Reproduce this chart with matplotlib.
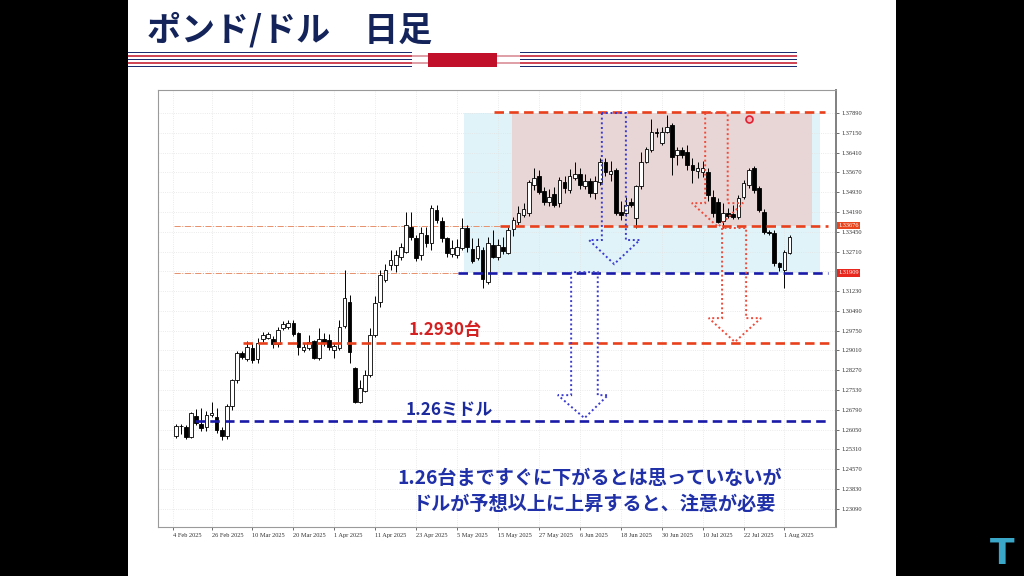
import numpy as np
import matplotlib.pyplot as plt
from matplotlib.patches import Rectangle, Polygon

plt.rcParams['font.family'] = ['Noto Sans CJK JP', 'DejaVu Sans']

# daily GBP/USD candles, 17 Feb 2025 .. 4 Aug 2025 (bar index 0..120)
opens = [1.2580, 1.2620, 1.2614, 1.2577, 1.2656, 1.2626, 1.2615, 1.2660, 1.2652, 1.2604,
         1.2581, 1.2693, 1.2790, 1.2891, 1.2868, 1.2910, 1.2868, 1.2943, 1.2947, 1.2944,
         1.2925, 1.2985, 1.2988, 1.3004, 1.2966, 1.2903, 1.2910, 1.2936, 1.2873, 1.2944,
         1.2940, 1.2903, 1.2910, 1.2992, 1.3082, 1.2835, 1.2708, 1.2749, 1.2809, 1.2959,
         1.3082, 1.3164, 1.3220, 1.3220, 1.3250, 1.3269, 1.3363, 1.3322, 1.3258, 1.3333,
         1.3303, 1.3426, 1.3385, 1.3322, 1.3262, 1.3258, 1.3284, 1.3359, 1.3281, 1.3247,
         1.3277, 1.3157, 1.3296, 1.3251, 1.3288, 1.3266, 1.3355, 1.3381, 1.3408, 1.3415,
         1.3520, 1.3553, 1.3497, 1.3456, 1.3486, 1.3453, 1.3531, 1.3501, 1.3546, 1.3561,
         1.3516, 1.3535, 1.3490, 1.3531, 1.3605, 1.3561, 1.3576, 1.3419, 1.3415, 1.3456,
         1.3396, 1.3516, 1.3605, 1.3651, 1.3718, 1.3677, 1.3718, 1.3744, 1.3632, 1.3651,
         1.3643, 1.3594, 1.3572, 1.3568, 1.3568, 1.3475, 1.3456, 1.3385, 1.3415, 1.3411,
         1.3400, 1.3475, 1.3520, 1.3583, 1.3508, 1.3419, 1.3344, 1.3340, 1.3228, 1.3202,
         1.3266]
highs = [1.2626, 1.2626, 1.2622, 1.2670, 1.2682, 1.2685, 1.2674, 1.2707, 1.2685, 1.2615,
         1.2700, 1.2795, 1.2898, 1.2898, 1.2935, 1.2928, 1.2947, 1.2970, 1.2970, 1.2955,
         1.2990, 1.3010, 1.3015, 1.3015, 1.2970, 1.2928, 1.2958, 1.2940, 1.2985, 1.2966,
         1.2962, 1.2929, 1.3015, 1.3202, 1.3108, 1.2838, 1.2790, 1.2827, 1.2985, 1.3105,
         1.3202, 1.3224, 1.3277, 1.3275, 1.3303, 1.3419, 1.3419, 1.3333, 1.3363, 1.3363,
         1.3445, 1.3445, 1.3400, 1.3326, 1.3315, 1.3318, 1.3396, 1.3370, 1.3322, 1.3322,
         1.3288, 1.3325, 1.3352, 1.3318, 1.3325, 1.3363, 1.3400, 1.3441, 1.3452, 1.3538,
         1.3583, 1.3575, 1.3512, 1.3505, 1.3512, 1.3550, 1.3553, 1.3580, 1.3605, 1.3583,
         1.3561, 1.3546, 1.3553, 1.3620, 1.3620, 1.3610, 1.3583, 1.3460, 1.3475, 1.3470,
         1.3520, 1.3643, 1.3662, 1.3767, 1.3733, 1.3737, 1.3782, 1.3752, 1.3662, 1.3662,
         1.3670, 1.3620, 1.3605, 1.3610, 1.3583, 1.3501, 1.3471, 1.3452, 1.3434, 1.3445,
         1.3482, 1.3538, 1.3583, 1.3590, 1.3516, 1.3430, 1.3352, 1.3352, 1.3232, 1.3277,
         1.3333]
lows = [1.2574, 1.2590, 1.2570, 1.2575, 1.2622, 1.2600, 1.2600, 1.2652, 1.2592, 1.2566,
        1.2570, 1.2680, 1.2780, 1.2868, 1.2861, 1.2853, 1.2856, 1.2932, 1.2943, 1.2910,
        1.2915, 1.2977, 1.2981, 1.2955, 1.2884, 1.2895, 1.2903, 1.2868, 1.2866, 1.2918,
        1.2903, 1.2873, 1.2903, 1.2985, 1.2854, 1.2705, 1.2705, 1.2745, 1.2801, 1.2950,
        1.3064, 1.3157, 1.3202, 1.3194, 1.3240, 1.3266, 1.3314, 1.3235, 1.3239, 1.3288,
        1.3277, 1.3378, 1.3307, 1.3251, 1.3251, 1.3247, 1.3277, 1.3270, 1.3228, 1.3240,
        1.3135, 1.3150, 1.3247, 1.3240, 1.3262, 1.3262, 1.3330, 1.3370, 1.3400, 1.3404,
        1.3500, 1.3486, 1.3445, 1.3441, 1.3437, 1.3437, 1.3490, 1.3490, 1.3538, 1.3505,
        1.3505, 1.3475, 1.3468, 1.3520, 1.3553, 1.3535, 1.3408, 1.3389, 1.3404, 1.3437,
        1.3359, 1.3505, 1.3601, 1.3643, 1.3700, 1.3670, 1.3714, 1.3557, 1.3594, 1.3620,
        1.3575, 1.3527, 1.3546, 1.3550, 1.3460, 1.3400, 1.3378, 1.3359, 1.3396, 1.3392,
        1.3392, 1.3467, 1.3509, 1.3490, 1.3419, 1.3337, 1.3333, 1.3217, 1.3198, 1.3135,
        1.3262]
closes = [1.2620, 1.2618, 1.2577, 1.2667, 1.2630, 1.2611, 1.2660, 1.2668, 1.2604, 1.2581,
          1.2693, 1.2790, 1.2891, 1.2875, 1.2914, 1.2865, 1.2928, 1.2958, 1.2962, 1.2925,
          1.2977, 1.3000, 1.3003, 1.2962, 1.2914, 1.2914, 1.2933, 1.2873, 1.2944, 1.2929,
          1.2914, 1.2918, 1.2989, 1.3097, 1.2895, 1.2708, 1.2760, 1.2809, 1.2959, 1.3078,
          1.3183, 1.3202, 1.3239, 1.3258, 1.3288, 1.3370, 1.3325, 1.3247, 1.3340, 1.3303,
          1.3434, 1.3389, 1.3322, 1.3266, 1.3284, 1.3288, 1.3359, 1.3288, 1.3236, 1.3290,
          1.3168, 1.3303, 1.3251, 1.3296, 1.3273, 1.3352, 1.3389, 1.3415, 1.3430, 1.3531,
          1.3546, 1.3494, 1.3456, 1.3475, 1.3445, 1.3538, 1.3509, 1.3553, 1.3561, 1.3520,
          1.3535, 1.3490, 1.3535, 1.3605, 1.3568, 1.3572, 1.3415, 1.3408, 1.3445, 1.3445,
          1.3516, 1.3605, 1.3654, 1.3718, 1.3714, 1.3718, 1.3737, 1.3624, 1.3651, 1.3632,
          1.3594, 1.3576, 1.3583, 1.3583, 1.3482, 1.3415, 1.3381, 1.3415, 1.3404, 1.3400,
          1.3471, 1.3527, 1.3576, 1.3501, 1.3426, 1.3344, 1.3340, 1.3228, 1.3213, 1.3269,
          1.3325]

x_tick_pos = [-0.5, 7, 15, 23, 31, 39, 47, 55, 63, 71, 79, 87, 95, 103, 111, 119]
x_tick_labels = ['4 Feb 2025', '26 Feb 2025', '10 Mar 2025', '20 Mar 2025', '1 Apr 2025',
                 '11 Apr 2025', '23 Apr 2025', '5 May 2025', '15 May 2025', '27 May 2025',
                 '6 Jun 2025', '18 Jun 2025', '30 Jun 2025', '10 Jul 2025', '22 Jul 2025',
                 '1 Aug 2025']
y_ticks = [1.37890, 1.37150, 1.36410, 1.35670, 1.34930, 1.34190, 1.33450, 1.32710, 1.31970,
           1.31230, 1.30490, 1.29750, 1.29010, 1.28270, 1.27530, 1.26790, 1.26050, 1.25310,
           1.24570, 1.23830, 1.23090]

# horizontal levels
lvl_top = 1.3793
lvl_upper = 1.33676
lvl_lower = 1.31909
lvl_1293 = 1.2930
lvl_126 = 1.2637

# arrows (bar index, price)
blue_arrow1 = [(83.3, 1.3789), (83.3, 1.3314), (80.8, 1.3314), (85.7, 1.3224),
               (90.7, 1.3314), (88.0, 1.3314), (88.0, 1.3789)]
blue_arrow2 = [(77.3, 1.3194), (77.3, 1.2734), (74.7, 1.2734), (79.9, 1.2648),
               (84.5, 1.2734), (82.5, 1.2734), (82.5, 1.3194)]
red_arrow1 = [(103.5, 1.3789), (103.5, 1.3452), (100.9, 1.3452), (106.0, 1.3363),
              (110.9, 1.3452), (107.9, 1.3452), (107.9, 1.3789)]
red_arrow2 = [(106.8, 1.3359), (106.8, 1.3022), (104.2, 1.3022), (109.3, 1.2933),
              (114.4, 1.3022), (111.5, 1.3022), (111.5, 1.3359)]

W, H = 1024, 576
def fx(px):
    return px / W
def fy(py):
    return 1 - py / H

fig = plt.figure(figsize=(10.24, 5.76), dpi=100, facecolor='black')

# white slide
fig.patches.append(Rectangle((fx(128), 0), fx(896) - fx(128), 1, transform=fig.transFigure,
                             facecolor='white', edgecolor='none', zorder=-10))

# title
fig.text(fx(147), fy(30), 'ポンド/ドル　日足', fontsize=24.5, fontweight='bold',
         color='#14245a', va='center', ha='left')

# decorative bar under title
def frect(x0, y0, x1, y1, color):
    fig.patches.append(Rectangle((fx(x0), fy(y1)), fx(x1) - fx(x0), fy(y0) - fy(y1),
                                 transform=fig.transFigure, facecolor=color,
                                 edgecolor='none', zorder=-5))

frect(128, 52, 797, 67, '#1c2c6e')
frect(128, 53.5, 797, 65.5, '#ffffff')
frect(128, 55.5, 797, 56.7, '#d04858')
frect(128, 58.8, 797, 60.2, '#1c2c6e')
frect(128, 62.3, 797, 63.5, '#d04858')
frect(412, 52, 520, 67, '#ffffff')
frect(412, 55.5, 520, 56.5, '#e0a0a8')
frect(412, 62.5, 520, 63.5, '#e0a0a8')
frect(428, 52.5, 497, 66.5, '#c0102a')

# chart axes
ax = fig.add_axes([fx(158), fy(527), fx(836) - fx(158), (527 - 90) / H])
ax.set_xlim(-3.46, 129.07)
ax.set_ylim(1.2241, 1.3875)
ax.set_facecolor('white')

# shaded zones
ax.add_patch(Rectangle((56.35, lvl_lower), 125.9 - 56.35, 1.3789 - lvl_lower,
                       facecolor='#dff3f9', edgecolor='none', zorder=0.5))
ax.add_patch(Rectangle((65.7, lvl_upper), 124.4 - 65.7, 1.3789 - lvl_upper,
                       facecolor='#e8d6d6', edgecolor='none', zorder=0.6))

ax.set_yticks(y_ticks)
ax.set_xticks(x_tick_pos)
ax.grid(color='#e4e4e4', linestyle=':', linewidth=0.6, zorder=0.7)
ax.set_axisbelow(True)

# candles
x = np.arange(len(opens))
o = np.array(opens)
c = np.array(closes)
ax.vlines(x, lows, highs, color='black', linewidth=0.7, zorder=3)
up = c >= o
body_h = np.maximum(np.abs(c - o), 0.00025)
ax.bar(x[up], body_h[up], bottom=np.minimum(o, c)[up], width=0.72, color='white',
       edgecolor='black', linewidth=0.6, zorder=3.5)
ax.bar(x[~up], body_h[~up], bottom=np.minimum(o, c)[~up], width=0.72, color='black',
       edgecolor='black', linewidth=0.6, zorder=3.5)

# thin MT4 horizontal lines
ax.hlines(lvl_upper, -0.4, 63.4, colors='#e8906c', linestyles='dashdot', linewidth=0.7, zorder=2)
ax.hlines(lvl_lower, -0.4, 55.2, colors='#e8906c', linestyles='dashdot', linewidth=0.7, zorder=2)

# dashed levels
dash = (0, (3.6, 2.0))
lw = 1.9
ax.hlines(lvl_top, 62.2, 126.9, colors='#e8401c', linestyles=[dash], linewidth=lw, zorder=4)
ax.hlines(lvl_upper, 63.4, 127.5, colors='#e8401c', linestyles=[dash], linewidth=lw, zorder=4)
ax.hlines(lvl_lower, 55.2, 127.5, colors='#1a1aa8', linestyles=[dash], linewidth=lw, zorder=4)
ax.hlines(lvl_1293, 13.2, 127.9, colors='#e8401c', linestyles=[dash], linewidth=lw, zorder=4)
ax.hlines(lvl_126, 3.8, 127.9, colors='#1a1aa8', linestyles=[dash], linewidth=lw, zorder=4)

# dotted arrows
for pts, col in [(blue_arrow1, '#3a3ad0'), (blue_arrow2, '#3a3ad0'),
                 (red_arrow1, '#f04a3a'), (red_arrow2, '#f04a3a')]:
    ax.add_patch(Polygon(pts, closed=True, fill=False, edgecolor=col, linewidth=1.4,
                         linestyle=(0, (1, 1.4)), zorder=5))

# cursor marker
ax.plot([112.1], [1.3767], marker='o', markersize=5, markerfacecolor='#f7b0b8',
        markeredgecolor='#e02030', markeredgewidth=1.2, zorder=6)

# level texts
ax.text(52.7, 1.2977, '1.2930台', color='#d42020', fontsize=12.3, fontweight='bold',
        ha='center', va='center', zorder=6)
ax.text(53.4, 1.2678, '1.26ミドル', color='#1b2a9c', fontsize=12.3, fontweight='bold',
        ha='center', va='center', zorder=6)

# axis styling
ax.yaxis.tick_right()
# the 1.31970 label sits under the 1.31909 price box
ytick_text = ['' if abs(v - 1.31970) < 1e-6 else '%.5f' % v for v in y_ticks]
ax.set_yticklabels(ytick_text, fontsize=4.6, color='#333333', family='Liberation Serif')
ax.set_xticklabels(x_tick_labels, fontsize=4.6, color='#333333', ha='left',
                   family='Liberation Serif')
ax.tick_params(axis='y', length=2.5, width=0.6, pad=1.5, colors='#555555', labelcolor='#333333')
ax.tick_params(axis='x', length=2.5, width=0.6, pad=2, colors='#555555', labelcolor='#333333')
for s in ax.spines.values():
    s.set_color('#9a9a9a')
    s.set_linewidth(0.8)
ax.spines['right'].set_color('#808080')
ax.spines['right'].set_linewidth(1.4)

# price labels on the axis
ytr = ax.get_yaxis_transform()
ax.text(1.003, lvl_upper, '1.33676', transform=ytr, fontsize=4.6, color='white',
        ha='left', va='center', family='Liberation Serif', zorder=7,
        bbox=dict(facecolor='#e8461e', edgecolor='none', pad=0.9))
ax.text(1.003, lvl_lower, '1.31909', transform=ytr, fontsize=4.6, color='white',
        ha='left', va='center', family='Liberation Serif', zorder=7,
        bbox=dict(facecolor='#e8281e', edgecolor='none', pad=0.9))

# comment text
fig.text(fx(590), fy(479), '1.26台まですぐに下がるとは思っていないが', fontsize=13.8,
         fontweight='bold', color='#1f30a8', ha='center', va='center')
fig.text(fx(594), fy(504), 'ドルが予想以上に上昇すると、注意が必要', fontsize=13.8,
         fontweight='bold', color='#1f30a8', ha='center', va='center')

# logo
fig.text(fx(1002), fy(554), 'T', fontsize=26, fontweight='bold', color='#3aa6c8',
         ha='center', va='center', family='DejaVu Sans')

fig.savefig('out.png', dpi=100, facecolor='black')
